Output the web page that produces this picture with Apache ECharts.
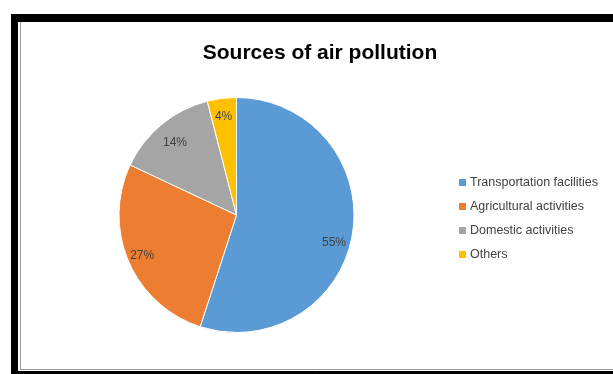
<!DOCTYPE html>
<html>
<head>
<meta charset="utf-8">
<script src="https://cdn.jsdelivr.net/npm/echarts@6/dist/echarts.min.js"></script>
<style>
html,body{margin:0;padding:0;background:#fff;}
#chart{width:613px;height:374px;}
</style>
</head>
<body>
<div id="chart"></div>
<script>
var titleText = 'Sources of air pollution';
var categories = ['Transportation facilities', 'Agricultural activities', 'Domestic activities', 'Others'];
var values = [55, 27, 14, 4];
var colors = ['#5B9BD5', '#ED7D31', '#A5A5A5', '#FFC000'];

// label nudges (styling only, mimic Excel best-fit placement)
var labelNudge = { 0: [-4, 12], 2: [4, 7], 3: [0, 4] };

var chart = echarts.init(document.getElementById('chart'));

var pieData = categories.map(function (c, i) {
  return { name: c, value: values[i], itemStyle: { color: colors[i] } };
});
var labelData = categories.map(function (c, i) {
  var d = { name: c, value: values[i] };
  if (labelNudge[i]) d.label = { offset: labelNudge[i] };
  return d;
});

chart.setOption({
  animation: false,
  backgroundColor: '#fff',
  title: {
    text: titleText,
    left: 315,
    top: 38,
    textAlign: 'center',
    textStyle: { fontFamily: 'Liberation Sans', fontWeight: 'bold', fontSize: 21, color: '#000' }
  },
  legend: {
    orient: 'vertical',
    left: 457,
    top: 176,
    padding: 0,
    itemWidth: 9,
    itemHeight: 9,
    itemGap: 11,
    icon: 'rect',
    data: categories,
    textStyle: { fontFamily: 'Liberation Sans', fontSize: 12.5, color: '#404040', lineHeight: 12.5, padding: [0, 0, 0, -2] }
  },
  graphic: [
    { type: 'rect', shape: { x: 11, y: 14, width: 602, height: 8 }, style: { fill: '#000' }, silent: true },
    { type: 'rect', shape: { x: 11, y: 14, width: 7, height: 360 }, style: { fill: '#000' }, silent: true },
    { type: 'rect', shape: { x: 11, y: 371, width: 602, height: 3 }, style: { fill: '#000' }, silent: true },
    { type: 'line', shape: { x1: 20.5, y1: 22, x2: 20.5, y2: 370 }, style: { stroke: '#999', lineWidth: 1 }, silent: true },
    { type: 'line', shape: { x1: 20, y1: 369.5, x2: 613, y2: 369.5 }, style: { stroke: '#999', lineWidth: 1 }, silent: true }
  ],
  series: [
    {
      type: 'pie',
      center: [236.5, 215],
      radius: [0, 117.5],
      startAngle: 90,
      clockwise: true,
      data: pieData,
      label: { show: false },
      labelLine: { show: false },
      itemStyle: { borderColor: '#fff', borderWidth: 1 },
      emphasis: { disabled: true }
    },
    {
      type: 'pie',
      center: [236.5, 215],
      radius: [82, 117.5],
      startAngle: 90,
      clockwise: true,
      silent: true,
      data: labelData,
      itemStyle: { color: 'rgba(0,0,0,0)' },
      label: {
        show: true,
        position: 'inside',
        formatter: '{c}%',
        fontFamily: 'Liberation Sans',
        fontSize: 12,
        color: '#404040'
      },
      labelLine: { show: false },
      emphasis: { disabled: true }
    }
  ]
});
</script>
</body>
</html>
